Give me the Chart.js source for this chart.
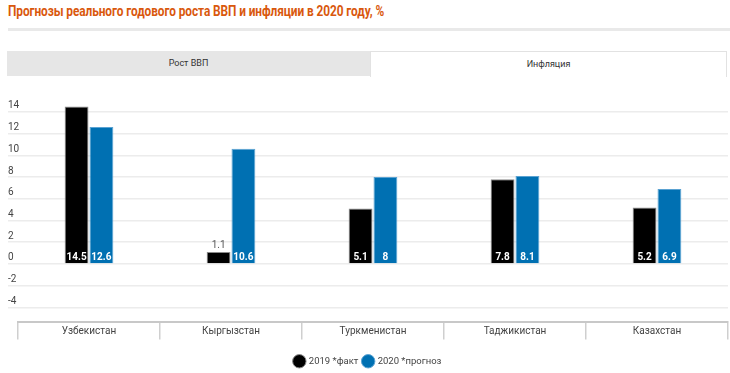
<!DOCTYPE html>
<html>
<head>
<meta charset="utf-8">
<script src="https://cdn.jsdelivr.net/npm/chart.js@4.4.1/dist/chart.umd.min.js"></script>
<style>
  html, body { margin: 0; padding: 0; background: #fff; }
  body { width: 730px; height: 373px; position: relative; overflow: hidden; font-family: Roboto, sans-serif; }
  #title { position: absolute; left: 8px; top: 2px; white-space: nowrap; color: #d9580d; font-weight: 700;
           font-size: 15.5px; transform: scaleX(0.765); transform-origin: left top; letter-spacing: -0.1px; }
  #rule { position: absolute; left: 8px; right: 0; top: 28px; height: 3px; background: #e9e9e9; }
  .tab { position: absolute; top: 51px; height: 25px; line-height: 25px; text-align: center; font-size: 9px; color: #333; }
  #tab1 { left: 7px; width: 363px; background: #e6e6e6; }
  #tab2 { left: 370px; width: 355px; background: #fff; border: 1px solid #e2e2e2; border-bottom: none; }
  #wrap { position: absolute; left: 0; top: 90px; width: 730px; height: 286px; }
</style>
</head>
<body>
<div id="title">Прогнозы реального годового роста ВВП и инфляции в 2020 году, %</div>
<div id="rule"></div>
<div class="tab" id="tab1">Рост ВВП</div>
<div class="tab" id="tab2">Инфляция</div>
<div id="wrap"><canvas id="chart"></canvas></div>
<script>
// --- DATA ---
const countries = ['Узбекистан', 'Кыргызстан', 'Туркменистан', 'Таджикистан', 'Казахстан'];
const fact2019 = [14.5, 1.1, 5.1, 7.8, 5.2];
const forecast2020 = [12.6, 10.6, 8, 8.1, 6.9];
const seriesNames = ['2019 *факт', '2020 *прогноз'];
const yTicks = [-4, -2, 0, 2, 4, 6, 8, 10, 12, 14];

// value labels at the foot of each bar (above it if the bar is too short)
const barLabels = {
    id: 'barLabels',
    afterDatasetsDraw(chart) {
        const ctx = chart.ctx;
        ctx.save();
        ctx.textAlign = 'center';
        ctx.textBaseline = 'middle';
        chart.data.datasets.forEach((ds, i) => {
            chart.getDatasetMeta(i).data.forEach((bar, j) => {
                const txt = String(ds.data[j]);
                const h = bar.base - bar.y;
                if (h < 16) {
                    ctx.font = '10px Roboto';
                    ctx.fillStyle = '#555';
                    ctx.fillText(txt, bar.x, bar.y - 6);
                } else {
                    ctx.font = 'bold 10px Roboto';
                    ctx.fillStyle = '#fff';
                    ctx.fillText(txt, bar.x, bar.base - 6);
                }
            });
        });
        ctx.restore();
    }
};

new Chart(document.getElementById('chart'), {
    type: 'bar',
    data: {
        labels: countries,
        datasets: [
            { label: seriesNames[0], data: fact2019, backgroundColor: '#000', borderColor: '#8a8a8a', borderWidth: 1 },
            { label: seriesNames[1], data: forecast2020, backgroundColor: '#0070b2', borderColor: '#5aa2d2', borderWidth: 1 }
        ]
    },
    options: {
        responsive: true, maintainAspectRatio: false, animation: false,
        layout: { padding: { left: 8, right: 2, top: 11, bottom: 0 } },
        datasets: { bar: { categoryPercentage: 0.35, barPercentage: 0.96 } },
        scales: {
            x: {
                grid: { drawOnChartArea: false, drawTicks: true, tickLength: 18, color: '#cfcfcf', lineWidth: 1.5 },
                border: { display: true, color: '#c8c8c8', width: 2 },
                ticks: { padding: -14, color: '#444', font: { family: 'Roboto', size: 10 } },
                afterFit: s => { s.height = 30; }
            },
            y: {
                min: -5.3, max: 15,
                grid: { color: '#ececec', lineWidth: 1.5, tickLength: 10 },
                border: { display: false },
                ticks: { mirror: true, padding: -10, labelOffset: -6, color: '#444', font: { family: 'Roboto', size: 10 } },
                afterBuildTicks: s => { s.ticks = yTicks.map(v => ({ value: v })); },
                afterFit: s => { s.width = 10; }
            }
        },
        plugins: {
            legend: {
                position: 'bottom',
                labels: { usePointStyle: true, pointStyle: 'circle', boxWidth: 10, boxHeight: 10, padding: 5,
                          color: '#444', font: { family: 'Roboto', size: 9.5 } }
            },
            tooltip: { enabled: false }
        }
    },
    plugins: [barLabels]
});
</script>
</body>
</html>
